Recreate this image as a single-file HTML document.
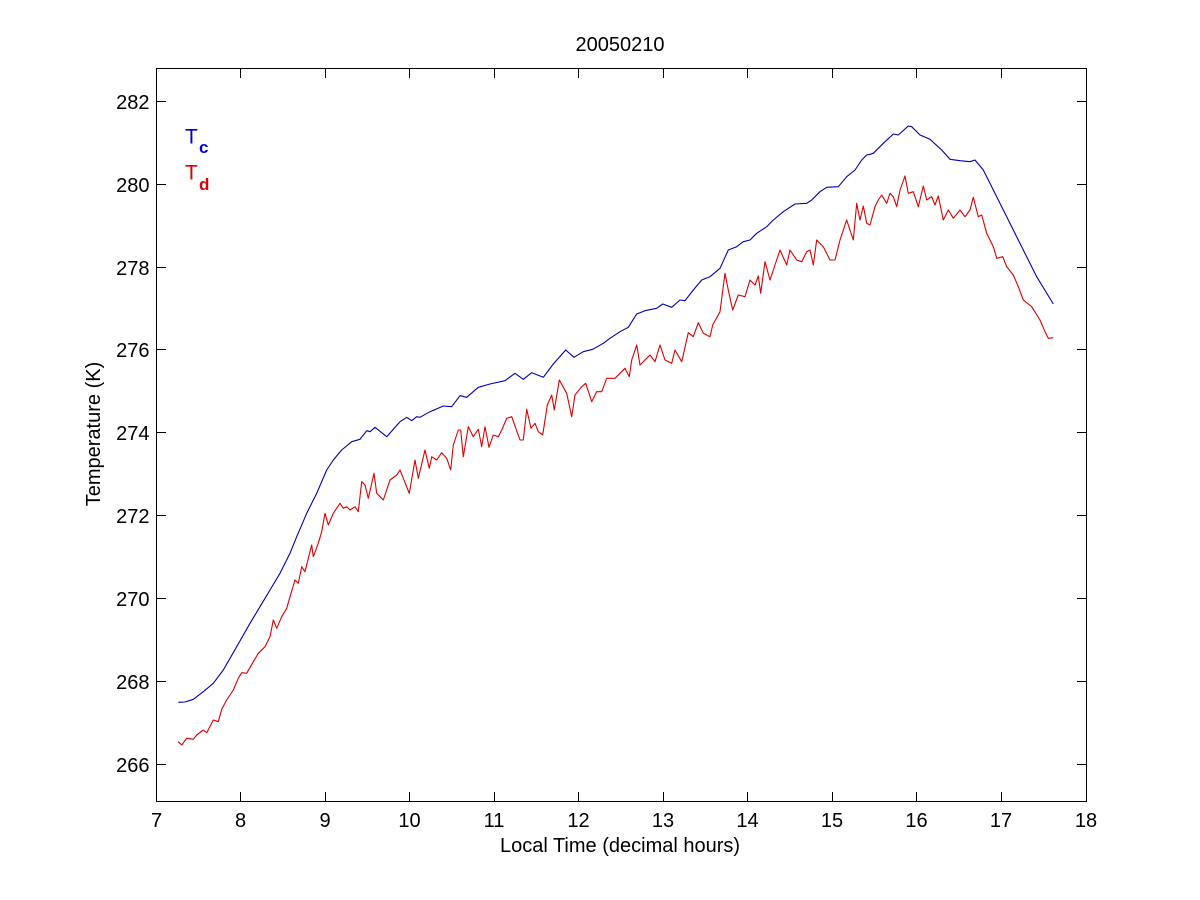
<!DOCTYPE html>
<html>
<head>
<meta charset="utf-8">
<style>
  html, body { margin: 0; padding: 0; background: #ffffff; }
  svg { display: block; }
  text { font-family: "Liberation Sans", Arial, sans-serif; fill: #000; }
</style>
</head>
<body>
<svg width="1200" height="900" viewBox="0 0 1200 900" xmlns="http://www.w3.org/2000/svg">
  <rect x="0" y="0" width="1200" height="900" fill="#ffffff"/>

  <!-- series: Tc (blue) -->
  <polyline fill="none" stroke="#0000b4" stroke-width="1.1" stroke-linejoin="round" points="
178.3,702.3 185,702 193.3,699.3 203.3,691.7 213.3,683.3 223.3,670 236.7,646.7 250,623.3 260,606.7 270,590 280,573.3 290,553.3 296.7,536.7 306.7,513.3 316.7,493.3 326.7,470 333.3,460 341.7,450 351.7,441.7 360,439.3 366.7,430.7 370,431.7 375,427.3 386.7,436.7 400,421.7 406.7,417.3 411.7,420.7 416.7,416.7 420,417.3 430,411.7 443.3,406 451.7,406.7 460,395.7 466.7,397.3 478.3,387.3 490,384 505,380.7 515,373.3 523.3,379.3 531.7,372.7 543.3,377.3 553.3,364 565.7,350 574,357.3 583.3,351.7 592.7,349.3 603.3,343.3 610,338.3 620,331.7 628.3,327.3 636.7,314 645,310.7 656.7,308.3 662.7,304 671.7,307.3 680,300 685,300.7 693.3,290 701.7,280 710,276.7 720,268.3 728.3,250 736.7,246.7 743.3,241.7 750,240 756.7,233.3 766.7,226.7 773.3,220 783.3,211.7 795,204 806.7,203.3 811.7,200 820,191.7 826.7,187.3 838.3,186.7 846.7,176.7 855,170 861.7,160 866.7,155 870,154.3 873.3,153.3 883.3,143.3 893.3,134 898.3,135 908.3,126 911.7,126.7 920,135 930,139.3 941.7,150 950,159.3 960,160.7 970,161.7 975,160 983.3,170 991.7,186.7 1006.7,216.7 1023.3,250 1036.7,276.7 1053.3,304"/>

  <!-- series: Td (red) -->
  <polyline fill="none" stroke="#dd0000" stroke-width="1.1" stroke-linejoin="round" points="
178.3,741.7 181.7,745 186.7,738.3 193.3,739.3 196.7,735 203.3,730 206.7,732.7 213.3,720 218.3,721.7 221.7,709.3 226.7,700 233.3,690 238.3,678.3 241.7,672.7 246.7,673.3 253.3,661.7 258.3,653.3 265,646.7 270,636.7 273.3,620 276.7,628.3 281.7,616.7 286.7,608.3 290,596.7 295,580 298.3,583.3 301.7,566.7 305,571.7 308.3,558.3 311.7,545 313.3,556.7 318.3,543.3 321.7,531.7 325,513.3 328.3,525 333.3,513.3 340,503.3 343.3,508.3 346.7,506.7 350,510 355,506.7 358.3,511.7 361.7,481.7 365,485 368.3,498.3 374,473.3 376.7,493.3 383.3,500 390,480 396.7,475 400,470 403.3,478.3 409.3,493.3 415,460 418.3,478.3 425,450 429.3,468.3 431.7,456.7 436.7,460 441.7,452.7 446.7,458.3 450.7,470 453.3,445 458.3,430 460.7,430 463.3,456.7 468.3,426.7 473.3,436.7 478.3,429.3 481.7,446.7 485,426.7 489,447.3 493.3,435 498.3,436.7 501.7,430 506.7,418.3 511.7,416.7 520,440 523.3,440 526.7,409.3 531,428.3 535,423.3 538.3,431.7 542.7,435 547.3,405 551.7,395 554.3,410 559.3,380 566.7,393.3 571.7,416.7 575,395 581.7,386.7 585.7,383.3 591.7,401.7 596.7,391.7 601.7,391.7 606.7,378.3 615,378.3 625,368.3 629.3,376.7 631.7,360 636.7,345 640,365 650,355 655,361.7 660,345 665,360 671.7,363.3 675,350 681.7,361.7 688.3,332.7 693.3,336.7 698.3,322.7 703.3,333.3 710,336.7 712.7,325 720,311.7 725,273.3 728.3,290 732.7,310 738.3,295 745,296.7 750,280 755,285 758.3,276 760.7,293.3 765,261.7 770,280 775,265 780,250 786.7,265 790,250 796.7,260 801.7,261.7 806.7,251.7 810,250 813.3,265 816.7,240 823.3,246.7 830,260 835,260 840,240 846.7,220 853.3,240 856.7,203.3 860,220 863.3,206 866.7,223.3 870,225 875,206.7 878.3,200 881.7,195 886.7,203.3 890,193.3 893.3,196.7 896.7,206.7 900,190 905,176 908.3,193.3 913.3,191.7 918.3,206.7 923.3,186 926.7,200 931.7,196.7 935,205 938.3,196 943.3,220 948.3,210 953.3,218.3 960,210 965,216.7 970,210 973.3,197.3 978.3,216.7 981.7,215 986.7,233.3 993.3,246.7 996.7,258.3 1002.7,256.7 1006.7,266.7 1013.3,275 1018.3,286.7 1023.3,300 1031.7,306.7 1040,320 1045,331.7 1048.3,338.3 1053.3,337.7"/>

  <!-- axes box -->
  <rect x="156.5" y="68.5" width="930" height="733" fill="none" stroke="#000" stroke-width="1"/>

  <!-- x ticks (bottom & top) -->
  <g stroke="#000" stroke-width="1">
    <path d="M240.5,801 v-9 M325.5,801 v-9 M409.5,801 v-9 M494.5,801 v-9 M578.5,801 v-9 M663.5,801 v-9 M747.5,801 v-9 M832.5,801 v-9 M916.5,801 v-9 M1001.5,801 v-9"/>
    <path d="M240.5,69 v9 M325.5,69 v9 M409.5,69 v9 M494.5,69 v9 M578.5,69 v9 M663.5,69 v9 M747.5,69 v9 M832.5,69 v9 M916.5,69 v9 M1001.5,69 v9"/>
    <!-- y ticks (left & right) -->
    <path d="M157,764.5 h9 M157,681.5 h9 M157,598.5 h9 M157,515.5 h9 M157,432.5 h9 M157,349.5 h9 M157,267.5 h9 M157,184.5 h9 M157,101.5 h9"/>
    <path d="M1086,764.5 h-9 M1086,681.5 h-9 M1086,598.5 h-9 M1086,515.5 h-9 M1086,432.5 h-9 M1086,349.5 h-9 M1086,267.5 h-9 M1086,184.5 h-9 M1086,101.5 h-9"/>
  </g>

  <!-- x tick labels -->
  <g font-size="20" text-anchor="middle">
    <text x="156.5" y="827">7</text>
    <text x="240.5" y="827">8</text>
    <text x="325" y="827">9</text>
    <text x="409.5" y="827">10</text>
    <text x="494" y="827">11</text>
    <text x="578.5" y="827">12</text>
    <text x="663" y="827">13</text>
    <text x="747.5" y="827">14</text>
    <text x="832" y="827">15</text>
    <text x="916.5" y="827">16</text>
    <text x="1001" y="827">17</text>
    <text x="1086" y="827">18</text>
  </g>

  <!-- y tick labels -->
  <g font-size="20" text-anchor="end">
    <text x="149.5" y="772">266</text>
    <text x="149.5" y="689">268</text>
    <text x="149.5" y="606">270</text>
    <text x="149.5" y="523">272</text>
    <text x="149.5" y="440">274</text>
    <text x="149.5" y="357">276</text>
    <text x="149.5" y="275">278</text>
    <text x="149.5" y="192">280</text>
    <text x="149.5" y="109">282</text>
  </g>

  <!-- title & axis labels -->
  <text x="620" y="51" font-size="20" text-anchor="middle">20050210</text>
  <text x="620" y="852" font-size="20" text-anchor="middle">Local Time (decimal hours)</text>
  <text transform="translate(100,434) rotate(-90)" font-size="20" text-anchor="middle">Temperature (K)</text>

  <!-- legend labels -->
  <text x="185" y="143.5" font-size="21" fill="#0000cc" style="fill:#0000cc">T</text>
  <text x="199" y="153" font-size="17" font-weight="bold" style="fill:#0000cc">c</text>
  <text x="185" y="179.5" font-size="21" style="fill:#dd0000">T</text>
  <text x="199" y="190" font-size="17" font-weight="bold" style="fill:#dd0000">d</text>
</svg>
</body>
</html>
